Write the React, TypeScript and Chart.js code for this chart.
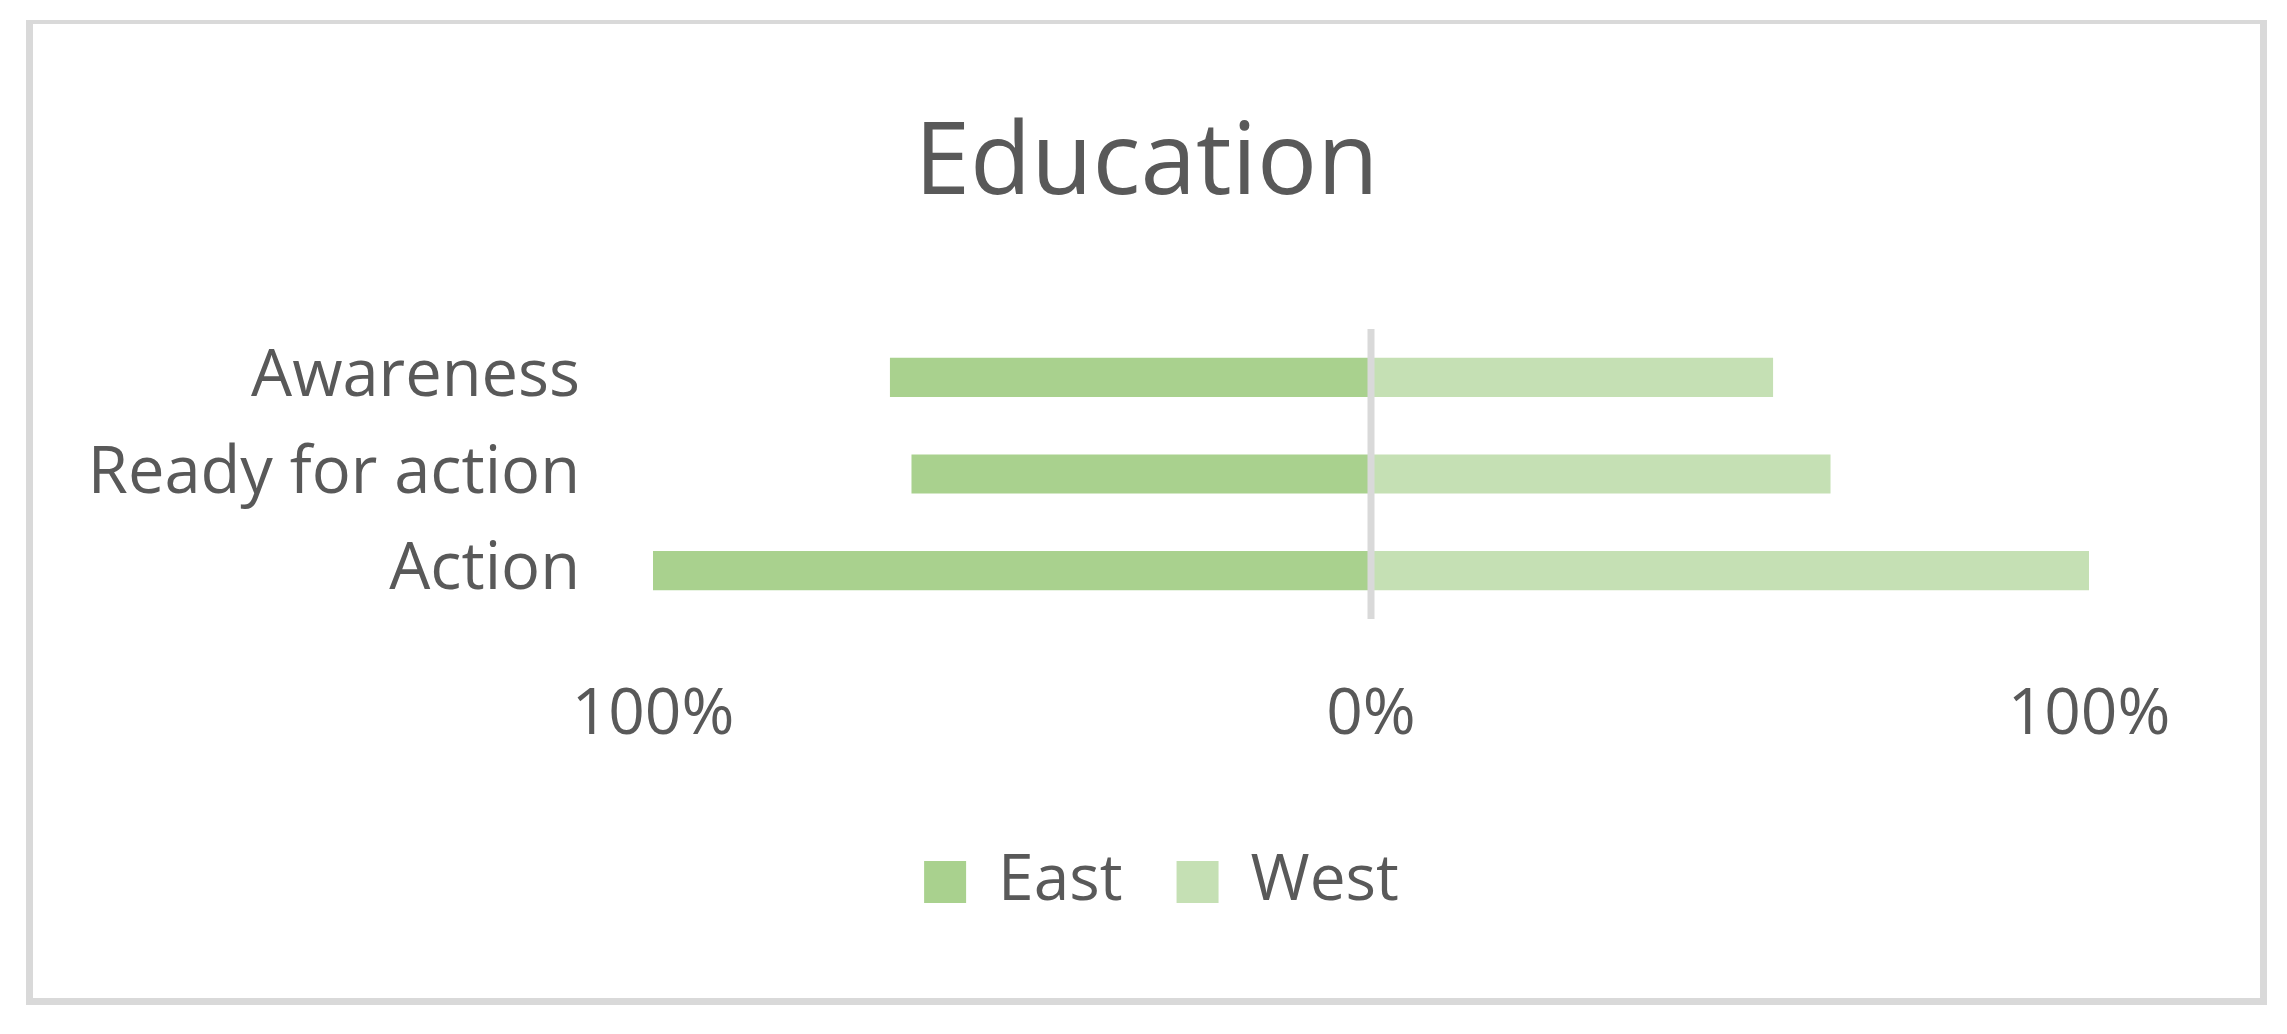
import React, { useEffect, useRef } from "react";
import { Chart, registerables } from "chart.js";

Chart.register(...registerables);

const categories = ["Awareness", "Ready for action", "Action"];
const eastValues = [0.67, 0.64, 1.0];
const westValues = [0.56, 0.64, 1.0];
const seriesNames = ["East", "West"];
const xTickValues = [-1, 0, 1];

const FONT = "'Open Sans', 'Noto Sans', sans-serif";
const TEXT = "#595959";

const zeroLinePlugin = {
  id: "zeroLine",
  afterDatasetsDraw(chart: any) {
    const { ctx, chartArea, scales } = chart;
    const x = scales.x.getPixelForValue(0);
    ctx.save();
    ctx.strokeStyle = "#D9D9D9";
    ctx.lineWidth = 7;
    ctx.beginPath();
    ctx.moveTo(x, chartArea.top);
    ctx.lineTo(x, chartArea.bottom);
    ctx.stroke();
    ctx.restore();
  },
};

const legendShiftPlugin = {
  id: "legendShift",
  afterLayout(chart: any) {
    const lg = chart.legend;
    if (lg) {
      lg.left += 15;
      lg.right += 15;
    }
  },
};

export default function App() {
  const ref = useRef<HTMLCanvasElement>(null);
  useEffect(() => {
    if (!ref.current) return;
    const chart = new Chart(ref.current, {
      type: "bar",
      data: {
        labels: categories,
        datasets: [
          {
            label: seriesNames[0],
            data: eastValues.map((v) => -v),
            backgroundColor: "#A9D18E",
            borderWidth: 0,
            categoryPercentage: 1,
            barPercentage: 0.405,
          },
          {
            label: seriesNames[1],
            data: westValues,
            backgroundColor: "#C5E0B4",
            borderWidth: 0,
            categoryPercentage: 1,
            barPercentage: 0.405,
          },
        ],
      },
      options: {
        indexAxis: "y",
        responsive: false,
        animation: false,
        devicePixelRatio: 1,
        layout: { padding: { left: 33, right: 27, top: 27, bottom: 110 } },
        scales: {
          x: {
            stacked: true,
            min: -1,
            max: 1,
            grid: { display: false, drawTicks: false },
            border: { display: false },
            afterBuildTicks(scale: any) {
              scale.ticks = xTickValues.map((v) => ({ value: v }));
            },
            ticks: {
              padding: 58,
              color: TEXT,
              font: { family: FONT, size: 64 },
              maxRotation: 0,
              callback: (v: any) => Math.round(Math.abs(Number(v)) * 100) + "%",
            },
            afterFit(scale: any) {
              scale.height = 177;
              scale.paddingLeft = 0;
              scale.paddingRight = 198;
            },
          },
          y: {
            stacked: true,
            grid: { display: false, drawTicks: false },
            border: { display: false },
            ticks: {
              padding: 73,
              color: TEXT,
              font: { family: FONT, size: 65 },
            },
            afterFit(scale: any) {
              scale.width = 620;
              scale.paddingTop = 0;
              scale.paddingBottom = 0;
            },
          },
        },
        plugins: {
          title: {
            display: true,
            text: "Education",
            color: TEXT,
            font: { family: FONT, size: 100, weight: "normal" },
            padding: { top: 79, bottom: 103 },
          },
          legend: {
            display: true,
            position: "bottom",
            labels: {
              color: TEXT,
              font: { family: FONT, size: 64 },
              boxWidth: 42,
              boxHeight: 42,
              padding: 54,
            },
          },
          tooltip: { enabled: false },
        },
      },
      plugins: [zeroLinePlugin, legendShiftPlugin],
    });
    return () => chart.destroy();
  }, []);

  return (
    <div
      style={{
        position: "absolute",
        left: 0,
        top: 0,
        width: 2287,
        height: 1034,
        background: "#fff",
      }}
    >
      <canvas
        ref={ref}
        width={2287}
        height={1034}
        style={{ position: "absolute", left: 0, top: 0 }}
      />
      <div
        style={{
          position: "absolute",
          left: 26,
          top: 20,
          width: 2241,
          height: 985,
          boxSizing: "border-box",
          borderStyle: "solid",
          borderColor: "#D9D9D9",
          borderWidth: "4px 7px 7px 7px",
          pointerEvents: "none",
        }}
      />
    </div>
  );
}
